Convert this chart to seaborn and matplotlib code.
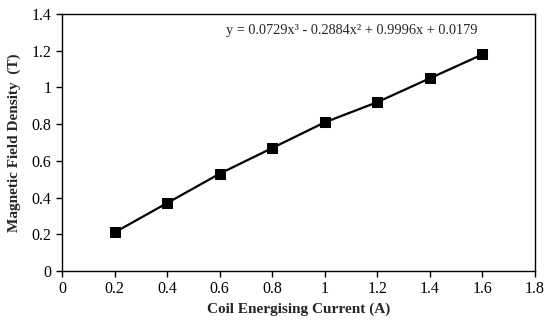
import pandas as pd
import matplotlib
matplotlib.use("Agg")
import matplotlib.pyplot as plt
import seaborn as sns

# Coil current (A) vs measured magnetic field density (T)
current = [0.2, 0.4, 0.6, 0.8, 1.0, 1.2, 1.4, 1.6]
field = [0.21, 0.37, 0.53, 0.67, 0.81, 0.92, 1.05, 1.18]
x_ticks = [0, 0.2, 0.4, 0.6, 0.8, 1, 1.2, 1.4, 1.6, 1.8]
y_ticks = [0, 0.2, 0.4, 0.6, 0.8, 1, 1.2, 1.4]
x_tick_labels = ['0', '0.2', '0.4', '0.6', '0.8', '1', '1.2', '1.4', '1.6', '1.8']
y_tick_labels = ['0', '0.2', '0.4', '0.6', '0.8', '1', '1.2', '1.4']
equation = 'y = 0.0729x\u00b3 - 0.2884x\u00b2 + 0.9996x + 0.0179'

df = pd.DataFrame({'current': current, 'field': field})

sns.set_style('white')
plt.rcParams['font.family'] = ['Liberation Serif', 'DejaVu Serif']

fig = plt.figure(figsize=(5.5, 3.24), dpi=100)
ax = fig.add_axes([0.1127, 0.1636, 0.86, 0.793])

sns.lineplot(data=df, x='current', y='field', color='black', linewidth=1.6,
             marker='s', markersize=7, markeredgecolor='black', ax=ax)

ax.set_xlim(0, 1.8)
ax.set_ylim(0, 1.4)
ax.set_xticks(x_ticks)
ax.set_xticklabels(x_tick_labels)
ax.set_yticks(y_ticks)
ax.set_yticklabels(y_tick_labels)
ax.tick_params(axis='both', direction='out', length=4, width=1, labelsize=11.5,
               bottom=True, left=True, colors='black')
for s in ax.spines.values():
    s.set_color('black')
    s.set_linewidth(1)

ax.set_xlabel('Coil Energising Current (A)', fontsize=11, fontweight='bold', labelpad=4)
ax.set_ylabel('Magnetic Field Density  (T)', fontsize=11, fontweight='bold', labelpad=8)
ax.text(0.625, 1.31, equation, fontsize=10.3, ha='left', va='center')

plt.savefig('out.png', dpi=100)
